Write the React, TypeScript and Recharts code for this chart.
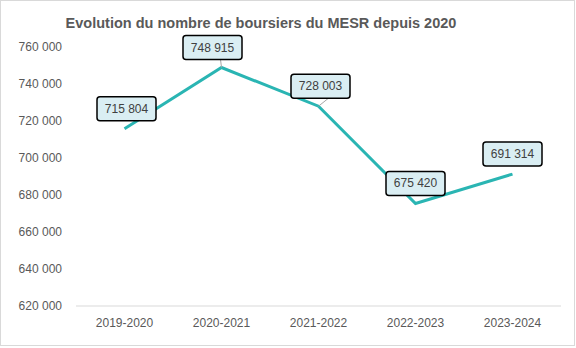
import React from "react";
import { LineChart, Line, XAxis, YAxis, LabelList } from "recharts";

const categories = ["2019-2020", "2020-2021", "2021-2022", "2022-2023", "2023-2024"];
const boursiers = [715804, 748915, 728003, 675420, 691314];
const yTicks = [620000, 640000, 660000, 680000, 700000, 720000, 740000, 760000];

const labelDx = [2, -9, 2, 0, 0];
const leaderLines = [false, true, true, false, false];

const data = categories.map((c, i) => ({ cat: c, value: boursiers[i] }));

const fmt = (v: number) => {
  const s = String(Math.round(v));
  return s.replace(/\B(?=(\d{3})+(?!\d))/g, " ");
};

const FONT = "'Liberation Sans', Arial, sans-serif";

const BoxLabel = (props: any) => {
  const { x, y, value, index } = props;
  const w = 59;
  const h = 24;
  const cx = x + labelDx[index];
  const cy = y - 20;
  return (
    <g>
      {leaderLines[index] && (
        <line x1={cx + 8} y1={cy + h / 2} x2={x} y2={y} stroke="#a6a6a6" strokeWidth={1} />
      )}
      <rect x={cx - w / 2} y={cy - h / 2} width={w} height={h} rx={3} ry={3} fill="#daeef3" stroke="#000" strokeWidth={1.5} />
      <text x={cx} y={cy} textAnchor="middle" dominantBaseline="central" fontFamily={FONT} fontSize={12} fill="#404040">
        {fmt(value)}
      </text>
    </g>
  );
};

export default function App() {
  return (
    <div style={{ position: "absolute", left: 0, top: 0, width: 576, height: 348 }}>
      <style>{"body{margin:0}"}</style>
      <svg width={576} height={348} style={{ position: "absolute", left: 0, top: 0 }}>
        <rect x={0.5} y={0.5} width={574} height={345} fill="#fff" stroke="#d9d9d9" strokeWidth={1} />
      </svg>
      <div style={{ position: "absolute", left: 0, top: 0 }}>
        <LineChart width={576} height={348} data={data} margin={{ top: 47, right: 15, bottom: 12, left: 0 }}>
          <text x={261} y={28} textAnchor="middle" fontFamily={FONT} fontWeight="bold" fontSize={14.5} fill="#595959">
            Evolution du nombre de boursiers du MESR depuis 2020
          </text>
          <XAxis
            dataKey="cat"
            height={30}
            padding={{ left: 48.5, right: 48.5 }}
            stroke="#d9d9d9"
            tickLine={false}
            tickSize={0}
            tickMargin={12}
            tick={{ fill: "#595959", fontSize: 12, fontFamily: FONT }}
          />
          <YAxis
            width={76}
            domain={[620000, 760000]}
            ticks={yTicks}
            axisLine={false}
            tickLine={false}
            tickSize={0}
            tickMargin={14}
            tickFormatter={fmt}
            tick={{ fill: "#595959", fontSize: 12, fontFamily: FONT }}
          />
          <Line
            type="linear"
            dataKey="value"
            stroke="#2ab5b3"
            strokeWidth={3}
            dot={false}
            isAnimationActive={false}
          >
            <LabelList dataKey="value" content={<BoxLabel />} />
          </Line>
        </LineChart>
      </div>
    </div>
  );
}
